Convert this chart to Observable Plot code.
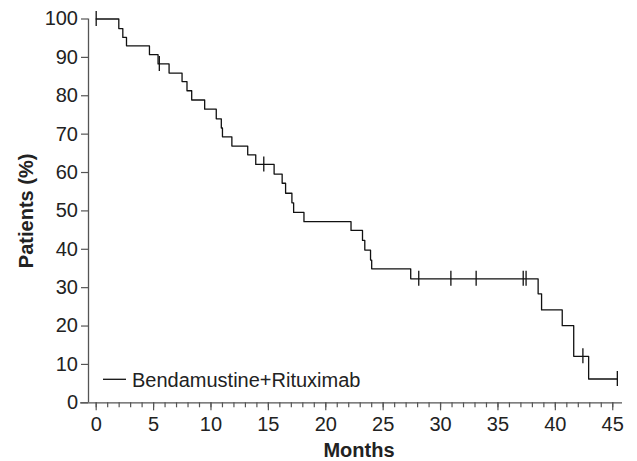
<!DOCTYPE html>
<html>
<head>
<meta charset="utf-8">
<script src="https://cdn.jsdelivr.net/npm/d3@7"></script>
<script src="https://cdn.jsdelivr.net/npm/@observablehq/plot@0.6"></script>
<style>
  html, body { margin: 0; padding: 0; background: #fff; }
  #chart { width: 637px; height: 461px; }
</style>
</head>
<body>
<div id="chart"></div>
<script>
// Kaplan–Meier step data (months, % patients)
const stepTimes = [0, 1.97, 2.32, 2.64, 4.64, 5.39, 6.35, 7.48, 7.91, 8.32, 9.45, 10.46, 10.9, 11.0, 11.82, 13.2, 13.9, 15.5, 16.2, 16.5, 17.05, 17.2, 18.1, 22.2, 23.2, 23.4, 23.9, 24.0, 27.4, 38.5, 38.8, 40.6, 41.6, 42.9, 45.4];
const stepValues = [100, 97.5, 95.2, 93.0, 90.7, 88.3, 85.9, 83.7, 81.3, 78.9, 76.5, 74.0, 71.6, 69.3, 66.9, 64.6, 62.1, 59.6, 57.2, 54.6, 52.1, 49.6, 47.2, 44.9, 42.3, 39.8, 37.2, 34.9, 32.3, 28.4, 24.2, 20.1, 12.1, 6.2, 6.2];
// censored observations
const censorTimes = [0, 5.5, 14.6, 28.1, 30.9, 33.1, 37.2, 37.45, 42.4, 45.4];
const censorValues = [100, 88.3, 62.1, 32.3, 32.3, 32.3, 32.3, 32.3, 12.1, 6.2];
// axes
const xMajorTicks = [0, 5, 10, 15, 20, 25, 30, 35, 40, 45];
const xMinorTicks = d3.range(0, 46, 1);
const yTicks = [0, 10, 20, 30, 40, 50, 60, 70, 80, 90, 100];
const seriesName = "Bendamustine+Rituximab";
const xTitle = "Months";
const yTitle = "Patients (%)";

const steps = stepTimes.map((t, i) => ({t, s: stepValues[i]}));
const censors = censorTimes.map((t, i) => ({t, s: censorValues[i]}));

const FONT = "'Liberation Sans', Arial, Helvetica, sans-serif";
const axisColor = "#555";
const textColor = "#222";

const legendMark = (index, scales, values, dims) => {
  const g = d3.create("svg:g");
  const x0 = dims.marginLeft;
  const y0 = dims.height - dims.marginBottom - 23;
  g.append("line")
    .attr("x1", x0 + 15).attr("x2", x0 + 38)
    .attr("y1", y0).attr("y2", y0)
    .attr("stroke", "#111").attr("stroke-width", 1.3);
  g.append("text")
    .attr("x", x0 + 44).attr("y", y0)
    .attr("dy", "0.36em")
    .attr("text-anchor", "start")
    .attr("fill", textColor)
    .style("font-size", "20px")
    .style("font-family", FONT)
    .text(seriesName);
  return g.node();
};

const chart = Plot.plot({
  width: 637,
  height: 461,
  marginLeft: 88,
  marginRight: 15,
  marginTop: 18.5,
  marginBottom: 58.7,
  style: {fontFamily: FONT, fontSize: "20px", color: textColor, background: "#fff", overflow: "visible"},
  x: {domain: [-0.67, 45.85]},
  y: {domain: [0, 100]},
  marks: [
    // axis lines
    Plot.ruleY([0], {x1: -1.37, x2: 45.85, stroke: axisColor, strokeWidth: 1.3}),
    Plot.ruleX([-0.67], {y1: 0, y2: 100, stroke: axisColor, strokeWidth: 1.3}),
    // x axis ticks
    Plot.axisX(xMinorTicks, {tickSize: 5, text: null, label: null, stroke: axisColor, strokeWidth: 1.2}),
    Plot.axisX(xMajorTicks, {tickSize: 8, tickPadding: 6, label: null, stroke: axisColor, strokeWidth: 1.2, fill: textColor, fontSize: 20}),
    // y axis
    Plot.axisY(yTicks, {tickSize: 7, tickPadding: 3.5, label: null, stroke: axisColor, strokeWidth: 1.2, fill: textColor, fontSize: 20}),
    // titles
    Plot.text([yTitle], {frameAnchor: "left", dx: -62, rotate: -90, textAnchor: "middle", lineAnchor: "middle", fontWeight: "bold", fontSize: 20, fill: textColor}),
    Plot.text([xTitle], {frameAnchor: "bottom", dx: 3.5, dy: 48, lineAnchor: "middle", fontWeight: "bold", fontSize: 20, fill: textColor}),
    // survival curve
    Plot.line(steps, {x: "t", y: "s", curve: "step-after", stroke: "#111", strokeWidth: 1.3}),
    // censor marks
    Plot.ruleX(censors, {x: "t", y1: "s", y2: "s", insetTop: -7.5, insetBottom: -7.5, stroke: "#111", strokeWidth: 1.3}),
    legendMark
  ]
});
document.getElementById("chart").appendChild(chart);
</script>
</body>
</html>
